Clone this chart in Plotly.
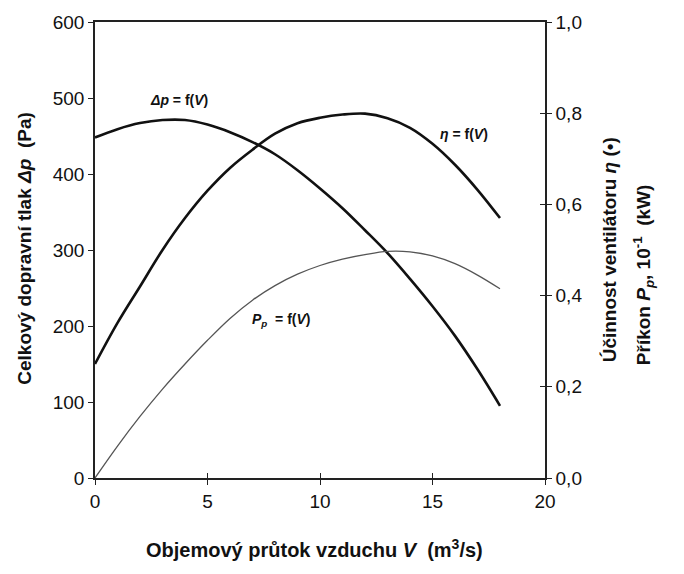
import plotly.graph_objects as go

# Fan characteristic curves versus volumetric air flow
flow = [0, 1, 2, 3, 4, 5, 6, 7, 8, 9, 10, 11, 12, 13, 14, 15, 16, 17, 18]
pressure = [448, 459, 467, 471, 471, 465, 455, 442, 426, 405, 381, 355, 326, 296, 262, 226, 187, 143, 95]
efficiency = [0.25, 0.34, 0.42, 0.50, 0.57, 0.63, 0.68, 0.72, 0.755, 0.778, 0.79, 0.797, 0.799, 0.789,
              0.768, 0.733, 0.687, 0.632, 0.57]
power = [0.0, 0.07, 0.135, 0.195, 0.25, 0.302, 0.350, 0.390, 0.422, 0.447, 0.466, 0.48, 0.49, 0.497,
         0.496, 0.487, 0.47, 0.445, 0.415]

x_ticks = [0, 5, 10, 15, 20]
left_ticks = [0, 100, 200, 300, 400, 500, 600]
right_ticks = [0.0, 0.2, 0.4, 0.6, 0.8, 1.0]

TICK_FONT = dict(family="Liberation Sans, Arial", size=19, color="#111")
TITLE_FONT = dict(family="Liberation Sans, Arial", size=19, color="#111")
LABEL_FONT = dict(family="Liberation Sans, Arial", size=14, color="#111")
AXIS_COLOR = "#222"

fig = go.Figure()
fig.add_trace(go.Scatter(x=flow, y=pressure, mode="lines", line=dict(color="#111", width=2.6, shape="spline"),
                         yaxis="y", hoverinfo="skip"))
fig.add_trace(go.Scatter(x=flow, y=efficiency, mode="lines", line=dict(color="#111", width=2.6, shape="spline"),
                         yaxis="y2", hoverinfo="skip"))
fig.add_trace(go.Scatter(x=flow, y=power, mode="lines", line=dict(color="#555", width=1.3, shape="spline"),
                         yaxis="y2", hoverinfo="skip"))

fig.update_layout(
    width=684, height=574,
    margin=dict(l=95, r=139, t=17, b=96),
    paper_bgcolor="white", plot_bgcolor="white",
    showlegend=False,
    separators=", ",
    xaxis=dict(range=[0, 20], tickvals=x_ticks, showgrid=False, zeroline=False,
               showline=True, linecolor=AXIS_COLOR, linewidth=1.5, mirror=True,
               ticks="outside", ticklen=5, tickcolor=AXIS_COLOR, tickfont=TICK_FONT),
    # inner half of the x ticks, so they cross the axis line
    xaxis2=dict(range=[0, 20], tickvals=x_ticks, overlaying="x", side="bottom", anchor="y",
                showgrid=False, zeroline=False, showline=False, showticklabels=False,
                ticks="inside", ticklen=5, tickcolor=AXIS_COLOR),
    yaxis=dict(range=[0, 600], tickvals=left_ticks, showgrid=False, zeroline=False,
               showline=True, linecolor=AXIS_COLOR, linewidth=1.5,
               ticks="outside", ticklen=5, tickcolor=AXIS_COLOR, tickfont=TICK_FONT),
    yaxis2=dict(range=[0, 1.0], tickvals=right_ticks, tickformat=".1f", overlaying="y", side="right",
                showgrid=False, zeroline=False, showline=True, linecolor=AXIS_COLOR, linewidth=1.5,
                ticks="outside", ticklen=5, tickcolor=AXIS_COLOR, tickfont=TICK_FONT),
    # inner half of the right-hand ticks
    yaxis3=dict(range=[0, 1.0], tickvals=right_ticks, overlaying="y", side="right", anchor="x",
                showgrid=False, zeroline=False, showline=False, showticklabels=False,
                ticks="inside", ticklen=5, tickcolor=AXIS_COLOR),
)

# empty traces so the tick-only axes are drawn
fig.add_trace(go.Scatter(x=[None], y=[None], xaxis="x2", yaxis="y", hoverinfo="skip"))
fig.add_trace(go.Scatter(x=[None], y=[None], xaxis="x", yaxis="y3", hoverinfo="skip"))

# Axis titles
fig.add_annotation(text="<b>Celkový dopravní tlak <i>Δp</i>  (Pa)</b>", xref="paper", yref="paper",
                   x=-0.1556, y=0.505, textangle=-90, showarrow=False, font=TITLE_FONT,
                   xanchor="center", yanchor="middle")
fig.add_annotation(text="<b>Účinnost ventilátoru <i>η</i> (•)</b>", xref="paper", yref="paper",
                   x=1.144, y=0.501, textangle=-90, showarrow=False, font=TITLE_FONT,
                   xanchor="center", yanchor="middle")
fig.add_annotation(text="<b>Příkon <i>P<sub>p</sub></i>, 10<sup>-1</sup>  (kW)</b>", xref="paper", yref="paper",
                   x=1.218, y=0.445, textangle=-90, showarrow=False, font=TITLE_FONT,
                   xanchor="center", yanchor="middle")
fig.add_annotation(text="<b>Objemový průtok vzduchu <i>V</i>  (m<sup>3</sup>/s)</b>", xref="paper", yref="paper",
                   x=0.487, y=-0.154, showarrow=False, font=dict(TITLE_FONT, size=20),
                   xanchor="center", yanchor="middle")

# Curve labels
fig.add_annotation(text="<b><i>Δp</i> = f(<i>V</i>)</b>", x=3.75, y=498, xref="x", yref="y",
                   showarrow=False, font=LABEL_FONT)
fig.add_annotation(text="<b><i>η</i> = f(<i>V</i>)</b>", x=16.4, y=452, xref="x", yref="y",
                   showarrow=False, font=LABEL_FONT)
fig.add_annotation(text="<b><i>P<sub>p</sub></i>  = f(<i>V</i>)</b>", x=8.3, y=208, xref="x", yref="y",
                   showarrow=False, font=LABEL_FONT)

fig.write_html("out.html")
